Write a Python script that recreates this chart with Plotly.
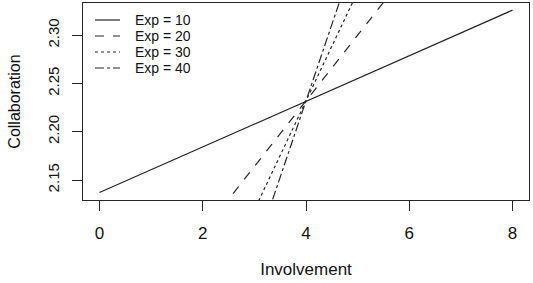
import plotly.graph_objects as go

# Data
involvement = [0, 8]
exp_labels = ["Exp = 10", "Exp = 20", "Exp = 30", "Exp = 40"]
collab_exp10 = [2.137, 2.326]
collab_exp20 = [1.960, 2.504]
collab_exp30 = [1.780, 2.684]
collab_exp40 = [1.600, 2.864]
series = [collab_exp10, collab_exp20, collab_exp30, collab_exp40]
dashes = ["solid", "dash", "dot", "dashdot"]
x_ticks = [0, 2, 4, 6, 8]
y_ticks = [2.15, 2.20, 2.25, 2.30]
y_tick_text = ["2.15", "2.20", "2.25", "2.30"]

FONT = "Liberation Sans, Arial, Helvetica, sans-serif"
COL = "#262626"
W, H = 533, 283
ML, MR, MT, MB = 83, 4, 3, 83
PW, PH = W - ML - MR, H - MT - MB


def px_x(p):
    return (p - ML) / PW


def px_y(p):
    return (H - MB - p) / PH


fig = go.Figure()
for name, vals, d in zip(exp_labels, series, dashes):
    fig.add_trace(go.Scatter(x=involvement, y=vals, mode="lines", name=name,
                             showlegend=False,
                             line=dict(color=COL, width=1.2, dash=d)))

# Legend drawn in the R style (compact rows, no box)
row_y = [20, 36, 52, 68]
for name, d, ry in zip(exp_labels, dashes, row_y):
    fig.add_shape(type="line", xref="paper", yref="paper",
                  x0=px_x(95), x1=px_x(120), y0=px_y(ry), y1=px_y(ry),
                  line=dict(color=COL, width=1.2, dash=d))
    fig.add_annotation(xref="paper", yref="paper", x=px_x(133), y=px_y(ry),
                       xanchor="left", yanchor="middle", text=name, showarrow=False,
                       font=dict(size=14, family=FONT, color="#111"))

fig.update_layout(
    width=W, height=H,
    margin=dict(l=ML, r=MR, t=MT, b=MB),
    paper_bgcolor="white", plot_bgcolor="white",
    font=dict(family=FONT, color="#111"),
    showlegend=False,
)
fig.update_xaxes(range=[-0.32, 8.32], tickvals=x_ticks, ticks="outside", ticklen=10,
                 tickcolor=COL, showline=True, linecolor=COL, linewidth=1, mirror=True,
                 showgrid=False, zeroline=False, tickfont=dict(size=17, color="#111"),
                 ticklabelstandoff=8, automargin=False,
                 title=dict(text="Involvement", font=dict(size=17), standoff=20))
fig.update_yaxes(range=[2.1293, 2.3334], tickvals=y_ticks, ticktext=y_tick_text,
                 ticks="outside", ticklen=10, tickangle=-90,
                 tickcolor=COL, showline=True, linecolor=COL, linewidth=1, mirror=True,
                 showgrid=False, zeroline=False, tickfont=dict(size=15, color="#111"),
                 ticklabelstandoff=7, automargin=False,
                 title=dict(text="Collaboration", font=dict(size=16), standoff=20))

fig.write_html("out.html", config={"displayModeBar": False},
               post_script="document.body.style.margin='0';")
